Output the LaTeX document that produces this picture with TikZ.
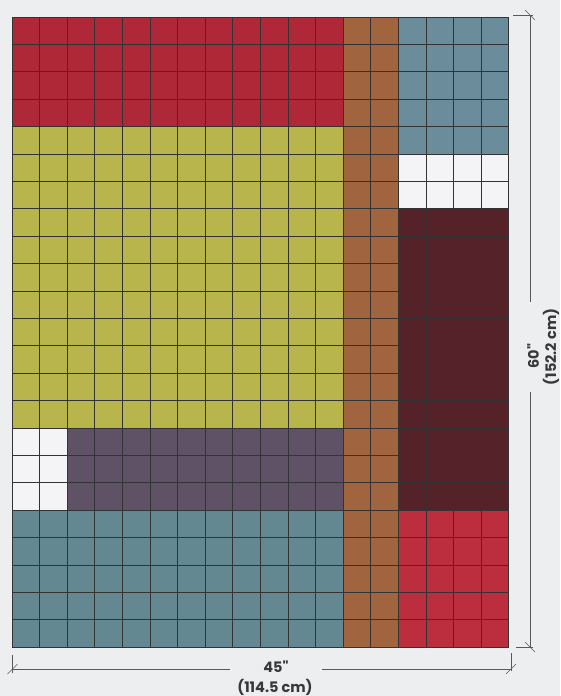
\documentclass[tikz,border=0pt]{standalone}
\usepackage{fontspec}
\setmainfont{Poppins}[Ligatures=TeXOff]
\definecolor{bgc}{HTML}{EDEEF0}
\definecolor{qred}{HTML}{AF2838}
\definecolor{qyellow}{HTML}{B7B54C}
\definecolor{qbrown}{HTML}{A0643E}
\definecolor{qbluetop}{HTML}{6B8C9A}
\definecolor{qblue}{HTML}{648891}
\definecolor{qwhite}{HTML}{F4F4F6}
\definecolor{qmaroon}{HTML}{552229}
\definecolor{qpurple}{HTML}{5F5166}
\definecolor{qredbr}{HTML}{BC2D3D}
\begin{document}
\begin{tikzpicture}[x=1pt,y=-1pt,
  gridline/.style={draw=black!80, line width=0.7pt},
  border/.style={draw=black!80, line width=0.9pt},
  dimline/.style={draw=black!65, line width=0.6pt},
  dimlabel/.style={font=\bfseries\fontsize{14.5}{16}\selectfont, text=black!78, inner sep=0pt}]
\fill[bgc] (0,0) rectangle (560,696);
\useasboundingbox (0,0) rectangle (560,696);
\begin{scope}[shift={(12,17)}, x=27.6pt, y=-27.4pt]
  \fill[qred] (0,0) rectangle (12,4);
  \fill[qyellow] (0,4) rectangle (12,15);
  \fill[qwhite] (0,15) rectangle (2,18);
  \fill[qpurple] (2,15) rectangle (12,18);
  \fill[qblue] (0,18) rectangle (12,23);
  \fill[qbrown] (12,0) rectangle (14,23);
  \fill[qbluetop] (14,0) rectangle (18,5);
  \fill[qwhite] (14,5) rectangle (18,7);
  \fill[qmaroon] (14,7) rectangle (18,18);
  \fill[qredbr] (14,18) rectangle (18,23);
  \foreach \i in {1,...,17} \draw[gridline] (\i,0) -- (\i,23);
  \foreach \j in {1,...,22} \draw[gridline] (0,\j) -- (18,\j);
  \draw[border] (0,0) rectangle (18,23);
\end{scope}
% horizontal dimension
\coordinate (hl) at (12.5,669);
\coordinate (hr) at (511,669);
\coordinate (hgl) at (230,669);
\coordinate (hgr) at (322,669);
\draw[dimline] (hl) -- (hgl);
\draw[dimline] (hgr) -- (hr);
\draw[dimline] (hl) ++(0,-14) -- ++(0,18);
\draw[dimline] (hr) ++(0,-16) -- ++(0,18);
\draw[dimline] (hl) ++(-5,5) -- ++(10,-10);
\draw[dimline] (hr) ++(-5,5) -- ++(10,-10);
\node[dimlabel] (wa) at (276,667) {45"};
\node[dimlabel] (wb) at (275,687) {(114.5 cm)};
% vertical dimension
\coordinate (vt) at (530,15);
\coordinate (vb) at (530,647);
\coordinate (vgt) at (530,302);
\coordinate (vgb) at (530,392);
\draw[dimline] (vt) -- (vgt);
\draw[dimline] (vgb) -- (vb);
\draw[dimline] (vt) ++(-17,0) -- ++(20,0);
\draw[dimline] (vb) ++(-14,0) -- ++(17,0);
\draw[dimline] (vt) ++(-5,-5) -- ++(10,10);
\draw[dimline] (vb) ++(-5,-5) -- ++(10,10);
\node[dimlabel, rotate=90] (ha) at (533,356) {60"};
\node[dimlabel, rotate=90] (hb) at (551,347) {(152.2 cm)};
\end{tikzpicture}
\end{document}
